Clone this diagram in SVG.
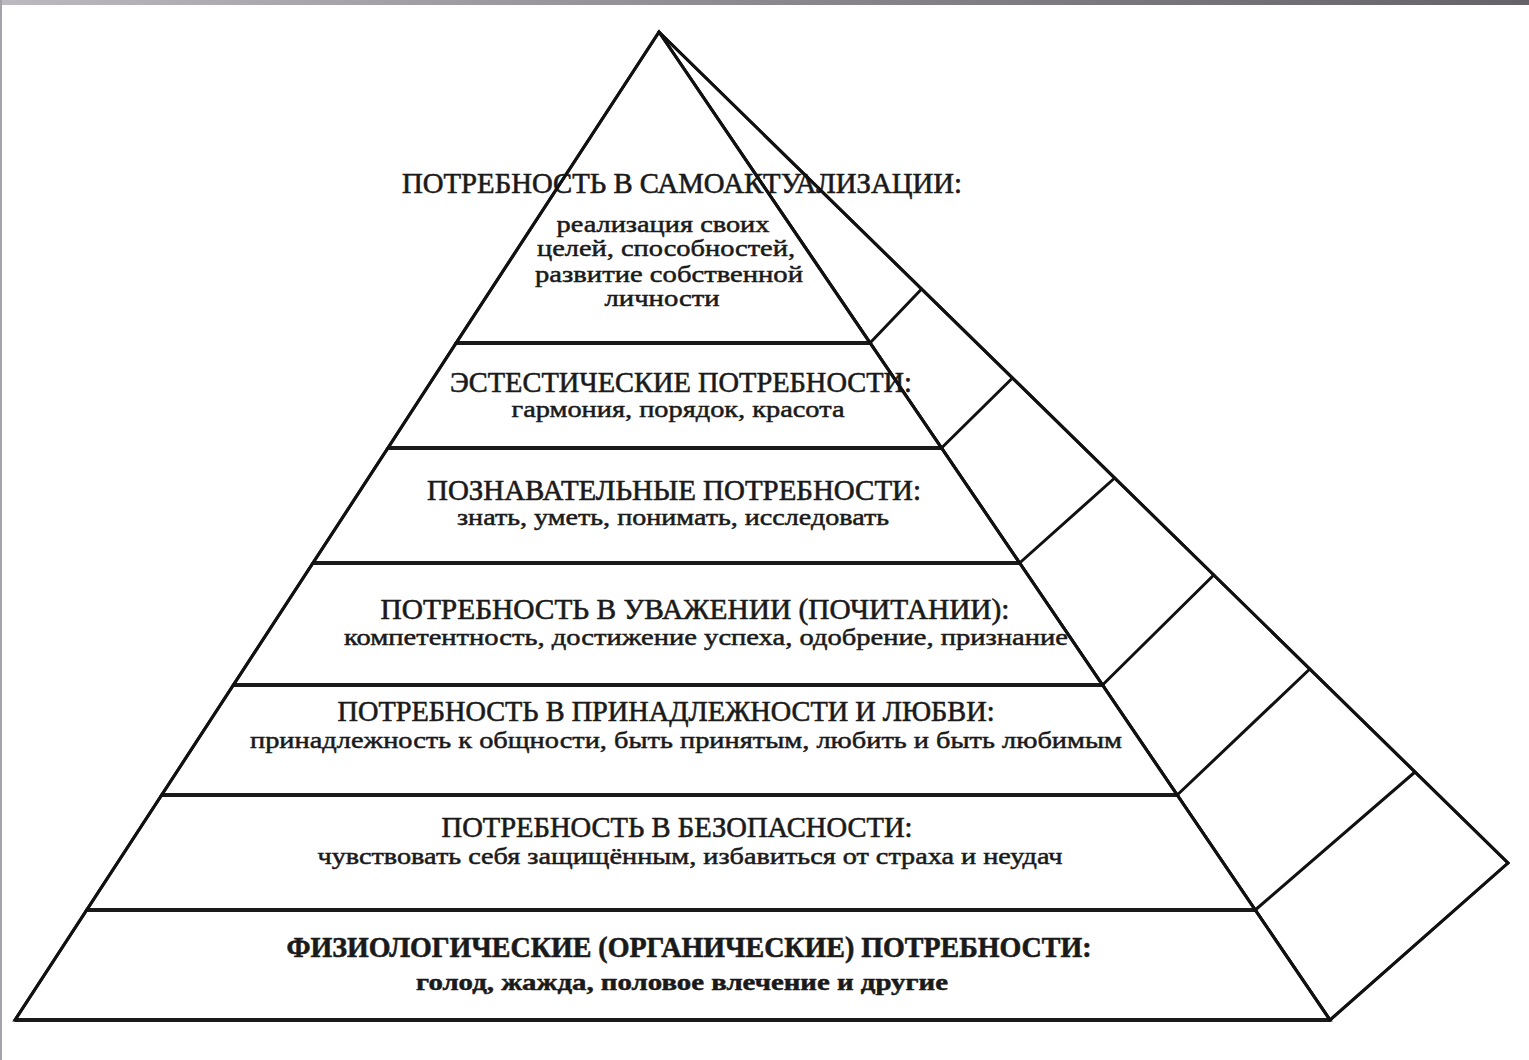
<svg xmlns="http://www.w3.org/2000/svg" width="1529" height="1060" viewBox="0 0 1529 1060">
<defs>
<linearGradient id="topbar" x1="0" y1="0" x2="1" y2="0">
<stop offset="0" stop-color="#bdb9c0"/>
<stop offset="0.5" stop-color="#8c8890"/>
<stop offset="1" stop-color="#66626a"/>
</linearGradient>
<style>
.face{fill:#ffffff;stroke:#111111;stroke-width:3;stroke-linejoin:miter}
.hline{stroke:#1a1a1a;stroke-width:4;fill:none}
.edge{stroke:#111111;stroke-width:3;fill:none;stroke-linecap:round}
.t{font-family:"Liberation Serif","DejaVu Serif",serif;font-size:29px;fill:#1a1a1a;stroke:#1a1a1a;stroke-width:0.6;text-anchor:middle}
.b{font-family:"Liberation Serif","DejaVu Serif",serif;font-size:23px;fill:#1a1a1a;stroke:#1a1a1a;stroke-width:0.5;text-anchor:middle}
.bold{font-weight:bold}
</style>
</defs>
<rect x="0" y="0" width="1529" height="1060" fill="#ffffff"/>
<rect x="0" y="0" width="1529" height="5" fill="url(#topbar)"/>
<rect x="0" y="0" width="2" height="1060" fill="#a6a2aa"/>

<g id="side-face">
<polygon class="face" points="659,32 1508,863 1330,1020"/>
</g>

<g id="tier1-self-actualization">
<polygon class="face" points="659,32 870,343 456,343"/>
<text class="t" x="682" y="193" textLength="560" lengthAdjust="spacingAndGlyphs">ПОТРЕБНОСТЬ В САМОАКТУАЛИЗАЦИИ:</text>
<text class="b" x="663" y="232" textLength="213" lengthAdjust="spacingAndGlyphs">реализация своих</text>
<text class="b" x="666" y="256" textLength="258" lengthAdjust="spacingAndGlyphs">целей, способностей,</text>
<text class="b" x="669" y="282" textLength="268" lengthAdjust="spacingAndGlyphs">развитие собственной</text>
<text class="b" x="662" y="306" textLength="115" lengthAdjust="spacingAndGlyphs">личности</text>
</g>

<g id="tier2-aesthetic">
<polygon class="face" points="456,343 870,343 941.5,448 388,448"/>
<text class="t" x="681" y="392" textLength="462" lengthAdjust="spacingAndGlyphs">ЭСТЕСТИЧЕСКИЕ ПОТРЕБНОСТИ:</text>
<text class="b" x="678" y="417" textLength="333" lengthAdjust="spacingAndGlyphs">гармония, порядок, красота</text>
</g>

<g id="tier3-cognitive">
<polygon class="face" points="388,448 941.5,448 1019.6,563 313,563"/>
<text class="t" x="674" y="500" textLength="494" lengthAdjust="spacingAndGlyphs">ПОЗНАВАТЕЛЬНЫЕ ПОТРЕБНОСТИ:</text>
<text class="b" x="673" y="525" textLength="432" lengthAdjust="spacingAndGlyphs">знать, уметь, понимать, исследовать</text>
</g>

<g id="tier4-esteem">
<polygon class="face" points="313,563 1019.6,563 1102.5,685 233.4,685"/>
<text class="t" x="695" y="619" textLength="629" lengthAdjust="spacingAndGlyphs">ПОТРЕБНОСТЬ В УВАЖЕНИИ (ПОЧИТАНИИ):</text>
<text class="b" x="706" y="645" textLength="724" lengthAdjust="spacingAndGlyphs">компетентность, достижение успеха, одобрение, признание</text>
</g>

<g id="tier5-belonging">
<polygon class="face" points="233.4,685 1102.5,685 1177.2,795 161.7,795"/>
<text class="t" x="666" y="721" textLength="657" lengthAdjust="spacingAndGlyphs">ПОТРЕБНОСТЬ В ПРИНАДЛЕЖНОСТИ И ЛЮБВИ:</text>
<text class="b" x="686" y="748" textLength="872" lengthAdjust="spacingAndGlyphs">принадлежность к общности, быть принятым, любить и быть любимым</text>
</g>

<g id="tier6-safety">
<polygon class="face" points="161.7,795 1177.2,795 1255.2,910 86.7,910"/>
<text class="t" x="677" y="837" textLength="471" lengthAdjust="spacingAndGlyphs">ПОТРЕБНОСТЬ В БЕЗОПАСНОСТИ:</text>
<text class="b" x="690" y="864" textLength="745" lengthAdjust="spacingAndGlyphs">чувствовать себя защищённым, избавиться от страха и неудач</text>
</g>

<g id="tier7-physiological">
<polygon class="face" points="86.7,910 1255.2,910 1330,1020 15,1020"/>
<text class="t bold" x="689" y="957" textLength="805" lengthAdjust="spacingAndGlyphs">ФИЗИОЛОГИЧЕСКИЕ (ОРГАНИЧЕСКИЕ) ПОТРЕБНОСТИ:</text>
<text class="b bold" x="682" y="990" textLength="532" lengthAdjust="spacingAndGlyphs">голод, жажда, половое влечение и другие</text>
</g>

<g id="connectors">
<line class="hline" x1="456" y1="343" x2="870" y2="343"/>
<line class="hline" x1="388" y1="448" x2="941.5" y2="448"/>
<line class="hline" x1="313" y1="563" x2="1019.6" y2="563"/>
<line class="hline" x1="233.4" y1="685" x2="1102.5" y2="685"/>
<line class="hline" x1="161.7" y1="795" x2="1177.2" y2="795"/>
<line class="hline" x1="86.7" y1="910" x2="1255.2" y2="910"/>
<line class="hline" x1="15" y1="1020" x2="1330" y2="1020"/>
<line class="edge" x1="870" y1="343" x2="921.6" y2="289"/>
<line class="edge" x1="941.5" y1="448" x2="1012.5" y2="378"/>
<line class="edge" x1="1019.6" y1="563" x2="1114.7" y2="478"/>
<line class="edge" x1="1102.5" y1="685" x2="1213.8" y2="575"/>
<line class="edge" x1="1177.2" y1="795" x2="1309.8" y2="669"/>
<line class="edge" x1="1255.2" y1="910" x2="1415" y2="772"/>
<line class="edge" x1="659" y1="32" x2="1508" y2="863"/>
<line class="edge" x1="1508" y1="863" x2="1330" y2="1020"/>
<line class="edge" x1="659" y1="32" x2="1330" y2="1020"/>
<line class="edge" x1="659" y1="32" x2="15" y2="1020"/>
</g>
</svg>
